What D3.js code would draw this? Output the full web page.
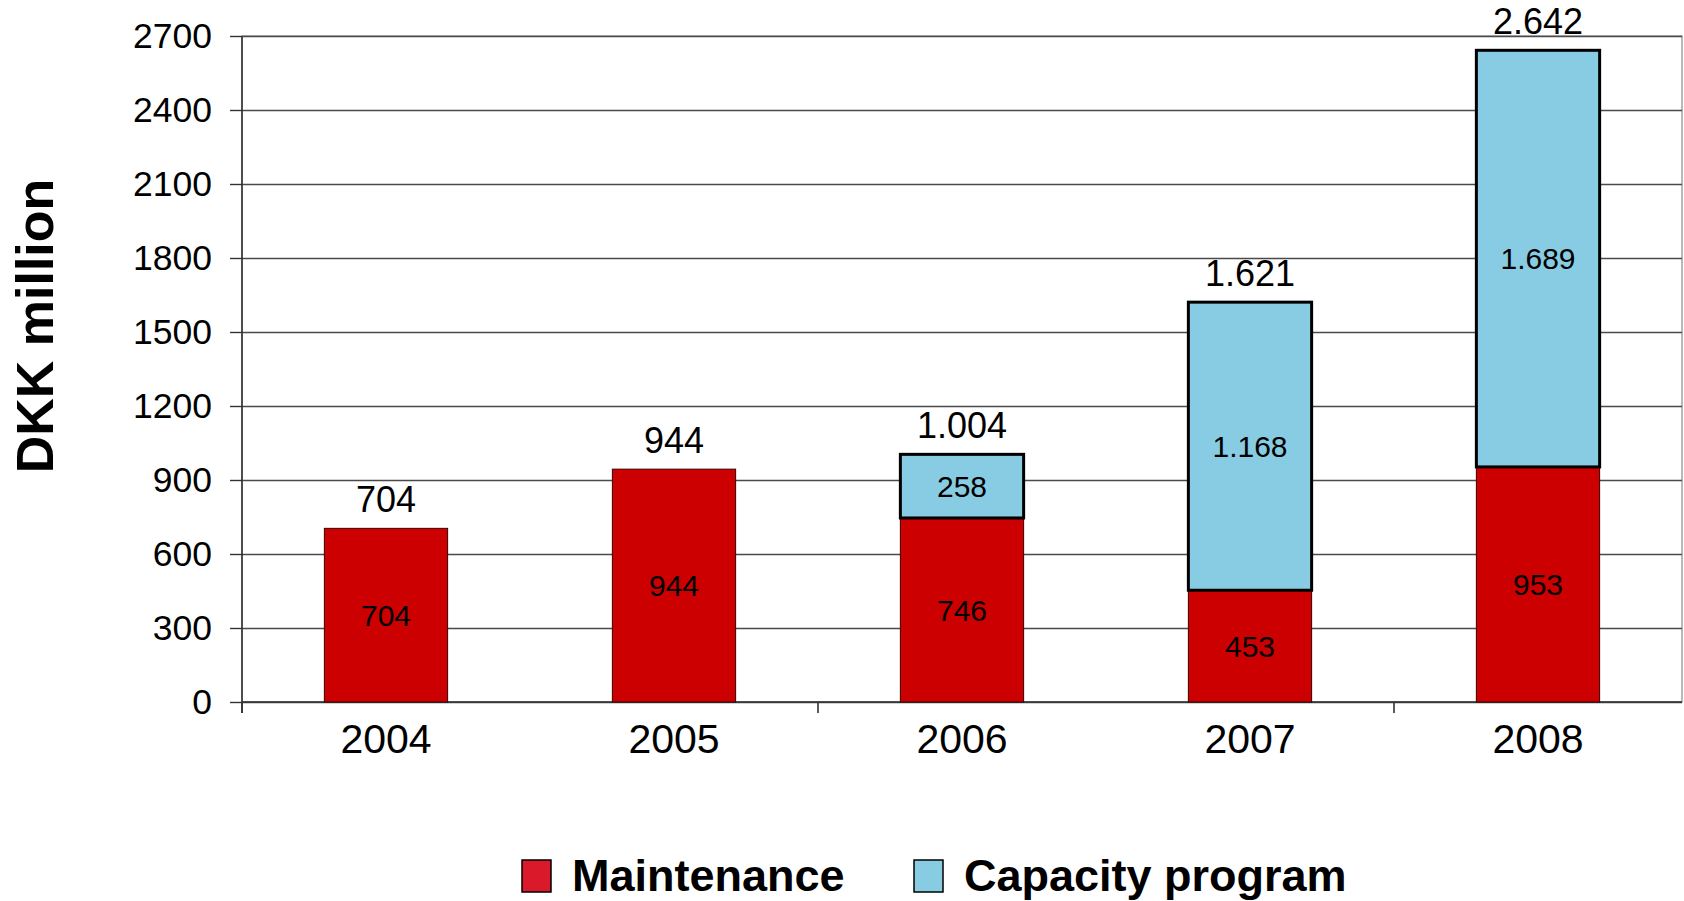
<!DOCTYPE html>
<html>
<head>
<meta charset="utf-8">
<script src="https://cdn.jsdelivr.net/npm/d3@7"></script>
<style>
  html, body { margin: 0; padding: 0; background: #ffffff; }
  svg { display: block; font-family: "Liberation Sans", Arial, sans-serif; }
</style>
</head>
<body>
<svg id="chart" width="1684" height="901"></svg>
<script>
// ---- data ----
const years = ["2004", "2005", "2006", "2007", "2008"];
const maintenance = [704, 944, 746, 453, 953];
const capacity = [0, 0, 258, 1168, 1689];
const totalLabels = ["704", "944", "1.004", "1.621", "2.642"];
const maintenanceLabels = ["704", "944", "746", "453", "953"];
const capacityLabels = ["", "", "258", "1.168", "1.689"];
const yTicks = [0, 300, 600, 900, 1200, 1500, 1800, 2100, 2400, 2700];
const seriesNames = ["Maintenance", "Capacity program"];
const yTitle = "DKK million";

(function () {
// ---- layout ----
const plotL = 242, plotR = 1682, plotT = 36, plotB = 702;
const svg = d3.select("#chart");

const x = d3.scaleBand().domain(years).range([plotL, plotR]).padding(0);
const y = d3.scaleLinear().domain([0, 2700]).range([plotB, plotT]);
const barW = x.bandwidth() * 0.428;

// plot border
svg.append("rect")
  .attr("x", plotL).attr("y", plotT)
  .attr("width", plotR - plotL).attr("height", plotB - plotT)
  .attr("fill", "none").attr("stroke", "#8a8a8a").attr("stroke-width", 1.2);

// gridlines
const grid = svg.append("g").attr("transform", `translate(${plotL},0)`)
  .call(d3.axisLeft(y).tickValues(yTicks).tickSize(-(plotR - plotL)).tickFormat(""));
grid.select(".domain").remove();
grid.selectAll(".tick line").attr("stroke", "#4a4a4a").attr("stroke-width", 1.4);

// y axis
const yAxis = svg.append("g").attr("transform", `translate(${plotL},0)`)
  .call(d3.axisLeft(y).tickValues(yTicks).tickSize(12).tickPadding(18).tickFormat(d3.format("d")));
yAxis.select(".domain").remove();
yAxis.selectAll(".tick line").attr("stroke", "#333").attr("stroke-width", 1.4);
yAxis.selectAll(".tick text")
  .attr("font-family", "'Liberation Sans', Arial, sans-serif")
  .attr("font-size", 35.5).attr("fill", "#000");
svg.append("line")
  .attr("x1", plotL).attr("x2", plotL).attr("y1", plotT).attr("y2", plotB + 11)
  .attr("stroke", "#333").attr("stroke-width", 1.6);

// x axis
const xAxis = svg.append("g").attr("transform", `translate(0,${plotB})`)
  .call(d3.axisBottom(x).tickSize(0).tickPadding(22));
xAxis.select(".domain").remove();
xAxis.selectAll(".tick text")
  .attr("font-family", "'Liberation Sans', Arial, sans-serif")
  .attr("font-size", 41).attr("fill", "#000");
svg.append("line")
  .attr("x1", plotL).attr("x2", plotR).attr("y1", plotB).attr("y2", plotB)
  .attr("stroke", "#333").attr("stroke-width", 1.6);
svg.append("g").selectAll("line")
  .data(years.filter((d, i) => i % 2 === 0))
  .join("line")
  .attr("x1", d => x(d)).attr("x2", d => x(d))
  .attr("y1", plotB).attr("y2", plotB + 11)
  .attr("stroke", "#333").attr("stroke-width", 1.6);

// bars
const rows = years.map((yr, i) => ({ yr, m: maintenance[i], c: capacity[i], i }));

svg.append("g").selectAll("rect")
  .data(rows).join("rect")
  .attr("x", d => x(d.yr) + (x.bandwidth() - barW) / 2)
  .attr("width", barW)
  .attr("y", d => y(d.m))
  .attr("height", d => y(0) - y(d.m))
  .attr("fill", "#CC0000")
  .attr("stroke", "#3a0000").attr("stroke-width", 1);

svg.append("g").selectAll("rect")
  .data(rows.filter(d => d.c > 0)).join("rect")
  .attr("x", d => x(d.yr) + (x.bandwidth() - barW) / 2)
  .attr("width", barW)
  .attr("y", d => y(d.m + d.c))
  .attr("height", d => y(d.m) - y(d.m + d.c))
  .attr("fill", "#88CCE3")
  .attr("stroke", "#000").attr("stroke-width", 3);

// inner labels
svg.append("g").selectAll("text")
  .data(rows).join("text")
  .attr("x", d => x(d.yr) + x.bandwidth() / 2)
  .attr("y", d => y(d.m / 2))
  .attr("dy", "0.36em")
  .attr("text-anchor", "middle")
  .attr("font-size", 30).attr("fill", "#000")
  .text(d => maintenanceLabels[d.i]);

svg.append("g").selectAll("text")
  .data(rows.filter(d => d.c > 0)).join("text")
  .attr("x", d => x(d.yr) + x.bandwidth() / 2)
  .attr("y", d => y(d.m + d.c / 2))
  .attr("dy", "0.36em")
  .attr("text-anchor", "middle")
  .attr("font-size", 30).attr("fill", "#000")
  .text(d => capacityLabels[d.i]);

// total labels
svg.append("g").selectAll("text")
  .data(rows).join("text")
  .attr("x", d => x(d.yr) + x.bandwidth() / 2)
  .attr("y", d => y(d.m + d.c) - 16)
  .attr("text-anchor", "middle")
  .attr("font-size", 36).attr("fill", "#000")
  .text(d => totalLabels[d.i]);

// y title
svg.append("text")
  .attr("transform", "translate(53,326) rotate(-90)")
  .attr("text-anchor", "middle")
  .attr("font-size", 52).attr("font-weight", "bold").attr("fill", "#000")
  .text(yTitle);

// legend
const legendColors = ["#DA1A2B", "#88CCE3"];
const legendX = [522, 914];
const lg = svg.append("g");
seriesNames.forEach((name, i) => {
  lg.append("rect")
    .attr("x", legendX[i]).attr("y", 860)
    .attr("width", 29).attr("height", 32)
    .attr("fill", legendColors[i])
    .attr("stroke", "#000").attr("stroke-width", 1.5);
  lg.append("text")
    .attr("x", legendX[i] + 50).attr("y", 891)
    .attr("font-size", 45).attr("font-weight", "bold").attr("fill", "#000")
    .text(name);
});
})();
</script>
</body>
</html>
